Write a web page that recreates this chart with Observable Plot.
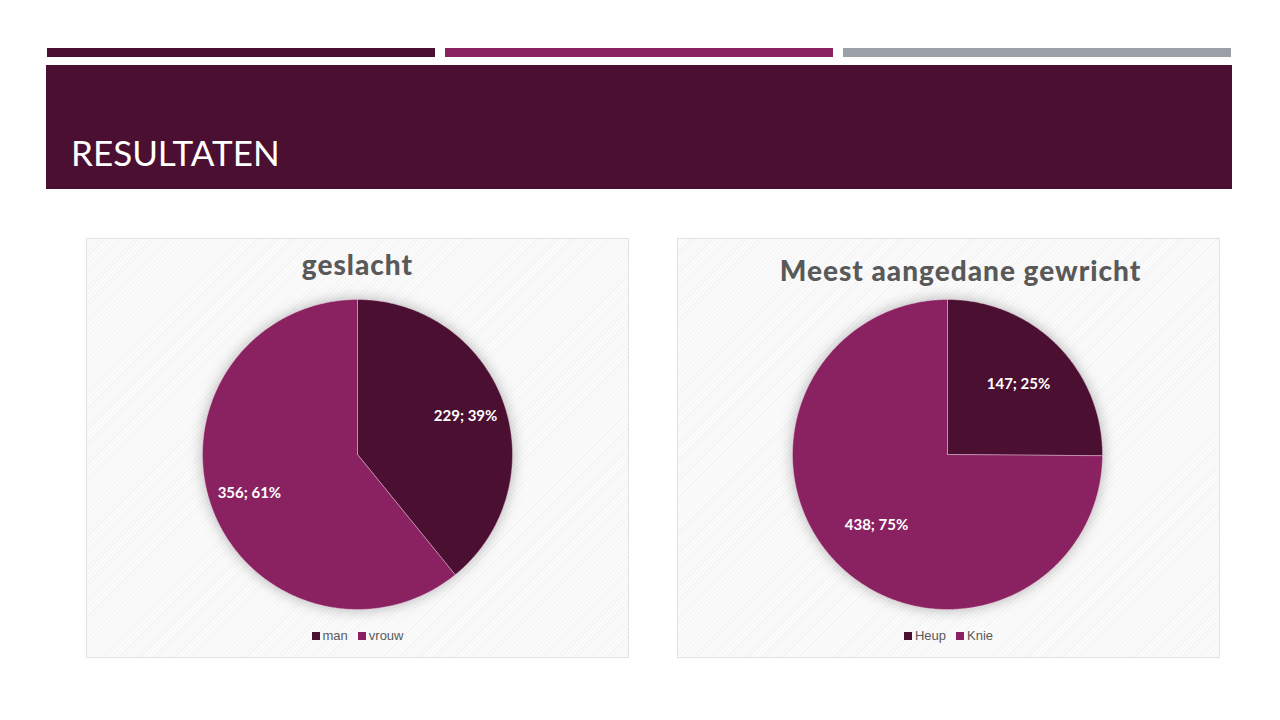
<!DOCTYPE html>
<html><head><meta charset="utf-8">
<script src="https://cdn.jsdelivr.net/npm/d3@7"></script>
<script src="https://cdn.jsdelivr.net/npm/@observablehq/plot@0.6"></script>
<style>
html,body{margin:0;padding:0;background:#fff;}
#slide{position:relative;width:1280px;height:720px;overflow:hidden;font-family:Lato,"Open Sans",sans-serif;}
.bar{position:absolute;top:48px;height:9px;}
#band{position:absolute;left:46px;top:65px;width:1186px;height:124px;background:#4A0F31;}
#band span{position:absolute;left:25px;top:66px;color:#fff;font-size:35px;letter-spacing:0px;font-family:Lato,sans-serif;}
.panel{position:absolute;top:238px;width:541px;height:418px;border:1px solid #e2e2e2;
  background:repeating-linear-gradient(135deg,#f4f4f4 0 1px,#fbfbfb 1px 3px);}
.panel svg{position:absolute;left:0;top:0;}
.ptitle{position:absolute;left:0;width:100%;text-align:center;font-weight:900;color:#595959;font-size:28px;letter-spacing:1px;}
.legend{position:absolute;left:0;width:100%;top:389px;text-align:center;font-size:13px;color:#595959;font-family:"Liberation Sans",sans-serif;}
.legend .sw{display:inline-block;width:8px;height:8px;margin-right:3px;vertical-align:0px;}
.legend .it{margin:0 5px;}
svg g[aria-label="line"]{filter:drop-shadow(0 0 7px rgba(0,0,0,0.28));}
</style></head>
<body>
<div id="slide">
  <div class="bar" style="left:47px;width:388px;background:#4A0F31"></div>
  <div class="bar" style="left:445px;width:388px;background:#8A2262"></div>
  <div class="bar" style="left:843px;width:388px;background:#9AA0A6"></div>
  <div id="band"><span>RESULTATEN</span></div>
  <div class="panel" id="p1" style="left:86px"></div>
  <div class="panel" id="p2" style="left:677px"></div>
</div>
<script>
// Data
const genderTitle = "geslacht";
const genderLabels = ["man", "vrouw"];
const genderCounts = [229, 356];
const jointTitle = "Meest aangedane gewricht";
const jointLabels = ["Heup", "Knie"];
const jointCounts = [147, 438];
const sliceColors = ["#4A0F31", "#8A2262"];

const W = 541, H = 418, R = 155, CX = 270.5, CY = 215;

function pieChart(el, title, labels, counts, labelR, titleTop, titleShift, cx) {
  const total = d3.sum(counts);
  const arcs = d3.pie().sort(null)(counts);
  const pts = [];
  const lab = [];
  arcs.forEach((a, i) => {
    const name = labels[i];
    pts.push({name, x: 0, y: 0});
    const n = Math.max(2, Math.ceil((a.endAngle - a.startAngle) / (Math.PI / 360)));
    for (let k = 0; k <= n; k++) {
      const t = a.startAngle + (a.endAngle - a.startAngle) * k / n;
      pts.push({name, x: Math.sin(t), y: Math.cos(t)});
    }
    pts.push({name, x: 0, y: 0});
    const m = (a.startAngle + a.endAngle) / 2;
    lab.push({name, x: labelR * Math.sin(m), y: labelR * Math.cos(m),
      text: `${counts[i]}; ${Math.round(counts[i] / total * 100)}%`});
  });
  const plot = Plot.plot({
    width: W, height: H, margin: 0,
    style: {background: "transparent", overflow: "visible"},
    x: {domain: [-cx / R, (W - cx) / R], axis: null},
    y: {domain: [-(H - CY) / R, CY / R], axis: null},
    color: {domain: labels, range: sliceColors},
    marks: [
      Plot.line(pts, {x: "x", y: "y", z: "name", fill: "name", stroke: "#f4d9e8", strokeWidth: 0.6, strokeOpacity: 0.7, curve: "linear"}),
      Plot.text(lab, {x: "x", y: "y", text: "text", fill: "white", fontSize: 15, fontWeight: "bold", fontFamily: "Lato, sans-serif", letterSpacing: 0.3})
    ]
  });
  el.appendChild(plot);
  const t = document.createElement("div");
  t.className = "ptitle"; t.style.top = titleTop + "px"; t.style.left = titleShift + "px"; t.textContent = title;
  el.appendChild(t);
  const lg = document.createElement("div");
  lg.className = "legend";
  lg.innerHTML = labels.map((l, i) => `<span class="it"><span class="sw" style="background:${sliceColors[i]}"></span>${l}</span>`).join("");
  el.appendChild(lg);
}
pieChart(document.getElementById("p1"), genderTitle, genderLabels, genderCounts, 0.74, 8, 0, 270);
pieChart(document.getElementById("p2"), jointTitle, jointLabels, jointCounts, 0.645, 14, 12, 269);
</script>
</body></html>
